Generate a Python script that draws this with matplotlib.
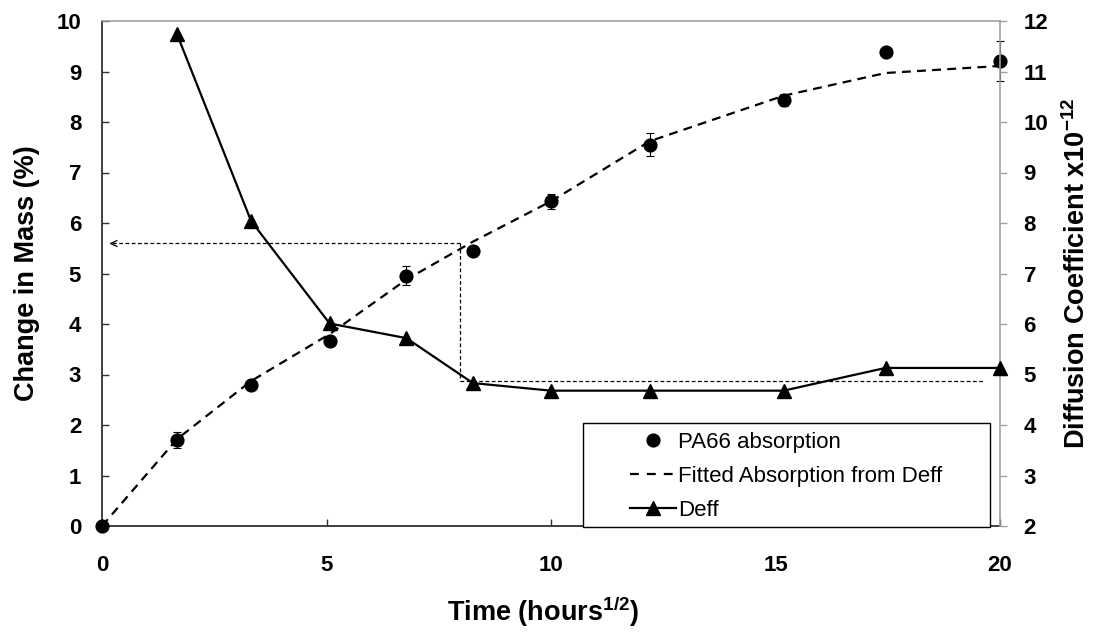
import matplotlib
matplotlib.use("Agg")
import matplotlib.pyplot as plt
from matplotlib.patches import Rectangle
from matplotlib.lines import Line2D

plt.rcParams['font.family'] = ['Liberation Sans', 'DejaVu Sans']
plt.rcParams['mathtext.fontset'] = 'custom'
plt.rcParams['mathtext.rm'] = 'Liberation Sans'
plt.rcParams['mathtext.bf'] = 'Liberation Sans:bold'

# ---- data ----
time_x = [0, 1.67, 3.32, 5.07, 6.78, 8.26, 10.0, 12.2, 15.18, 17.45, 20.0]
absorption = [0, 1.71, 2.79, 3.67, 4.96, 5.44, 6.43, 7.55, 8.44, 9.38, 9.21]
absorption_err = [0, 0.16, 0.08, 0.04, 0.18, 0.04, 0.15, 0.23, 0.12, 0.0, 0.4]
fitted = [0, 1.72, 2.87, 3.80, 4.88, 5.63, 6.43, 7.62, 8.52, 8.97, 9.11]
deff_x = [1.67, 3.32, 5.07, 6.78, 8.26, 10.0, 12.2, 15.18, 17.45, 20.0]
deff = [11.74, 8.04, 6.01, 5.72, 4.83, 4.68, 4.68, 4.68, 5.13, 5.13]

# guide lines
guide_time = 7.98
guide_mass = 5.6
guide_deff = 4.88
guide_arrow_end = 0.18
guide_right_end = 19.63

x_ticks = [0, 5, 10, 15, 20]
left_ticks = list(range(0, 11))
right_ticks = list(range(2, 13))

W, H = 1095, 633
fig = plt.figure(figsize=(W / 100, H / 100), dpi=100)
ax = fig.add_axes([102 / W, 1 - 526 / H, 898 / W, 505 / H])
ax2 = ax.twinx()

dark = '#303030'
grey = '#a0a0a0'

# absorption points with error bars
ax.errorbar(time_x, absorption, yerr=absorption_err, fmt='o', color='black',
            markersize=9.2, ecolor='black', elinewidth=0.8, capsize=2.8,
            capthick=0.8, clip_on=False, zorder=4)
# fitted dashed line
ax.plot(time_x, fitted, color='black', lw=1.6, dashes=(4, 2.8), zorder=3)

# guide lines
ax.plot([guide_time, guide_arrow_end], [guide_mass, guide_mass], color='black',
        lw=0.9, dashes=(3, 2))
ax.plot([guide_arrow_end], [guide_mass], marker=[(1, 0.45), (0, 0), (1, -0.45)],
        markersize=10, mfc='none', mec='black', mew=0.9, linestyle='none')
ax2.plot([guide_time, guide_time], [guide_mass + 2, guide_deff], color='black',
         lw=0.9, dashes=(3, 2))
ax2.plot([guide_time, guide_right_end], [guide_deff, guide_deff], color='black',
         lw=0.9, dashes=(3, 2))

# Deff
ax2.plot(deff_x, deff, color='black', lw=1.6, marker='^', markersize=9.5,
         clip_on=False, zorder=5)

ax.set_xlim(0, 20)
ax.set_ylim(0, 10)
ax2.set_ylim(2, 12)
ax.set_xticks(x_ticks)
ax.set_yticks(left_ticks)
ax2.set_yticks(right_ticks)

tfont = dict(fontsize=16, fontweight='bold')
ax.set_xticklabels([str(v) for v in x_ticks], **tfont)
ax.set_yticklabels([str(v) for v in left_ticks], **tfont)
ax2.set_yticklabels([str(v) for v in right_ticks], **tfont)

ax.tick_params(axis='both', direction='in', length=5, width=1, color=dark)
ax.tick_params(axis='y', pad=15)
ax.tick_params(axis='x', pad=21)
ax.tick_params(top=False, right=False)
ax2.tick_params(axis='y', direction='out', length=5, width=1, color=grey, pad=12)

for s in ['left', 'bottom']:
    ax.spines[s].set_color(dark)
    ax.spines[s].set_linewidth(1.3)
ax.spines['top'].set_color(grey)
ax.spines['top'].set_linewidth(1.2)
ax.spines['right'].set_visible(False)
ax2.spines['right'].set_color(grey)
ax2.spines['right'].set_linewidth(1.2)
for s in ['left', 'bottom', 'top']:
    ax2.spines[s].set_visible(False)

lfont = dict(fontsize=19.5, fontweight='bold')
ax.set_xlabel(r'Time (hours$^{\mathbf{1/2}}$)', **lfont)
ax.xaxis.set_label_coords(0.4917, -0.170)
ax.xaxis.label.set_va('center')
ax.set_ylabel('Change in Mass (%)', **lfont)
ax.yaxis.set_label_coords(-0.083, 0.5)
ax.yaxis.label.set_va('center')
ax2.set_ylabel(r'Diffusion Coefficient x10$^{\mathbf{-12}}$', rotation=90, **lfont)
ax2.yaxis.set_label_coords(1.0857, 0.5)
ax2.yaxis.label.set_va('center')

# legend frame
fig.patches.append(Rectangle((583 / W, 1 - 527 / H), 407 / W, 104 / H,
                             transform=fig.transFigure, facecolor='white',
                             edgecolor='black', lw=1.0, zorder=10))
handles = [
    Line2D([], [], color='black', marker='o', linestyle='none', markersize=9.2),
    Line2D([], [], color='black', lw=1.6, dashes=(4, 3.6)),
    Line2D([], [], color='black', lw=1.6, marker='^', markersize=9.5),
]
labels = ['PA66 absorption', 'Fitted Absorption from Deff', 'Deff']
leg = fig.legend(handles, labels, loc='upper left',
                 bbox_to_anchor=(630 / W, 1 - 432 / H), frameon=False,
                 fontsize=16, borderpad=0, borderaxespad=0, handlelength=2.05,
                 handletextpad=0.12, labelspacing=0.58)
leg.set_zorder(11)

fig.savefig('out.png', dpi=100)
